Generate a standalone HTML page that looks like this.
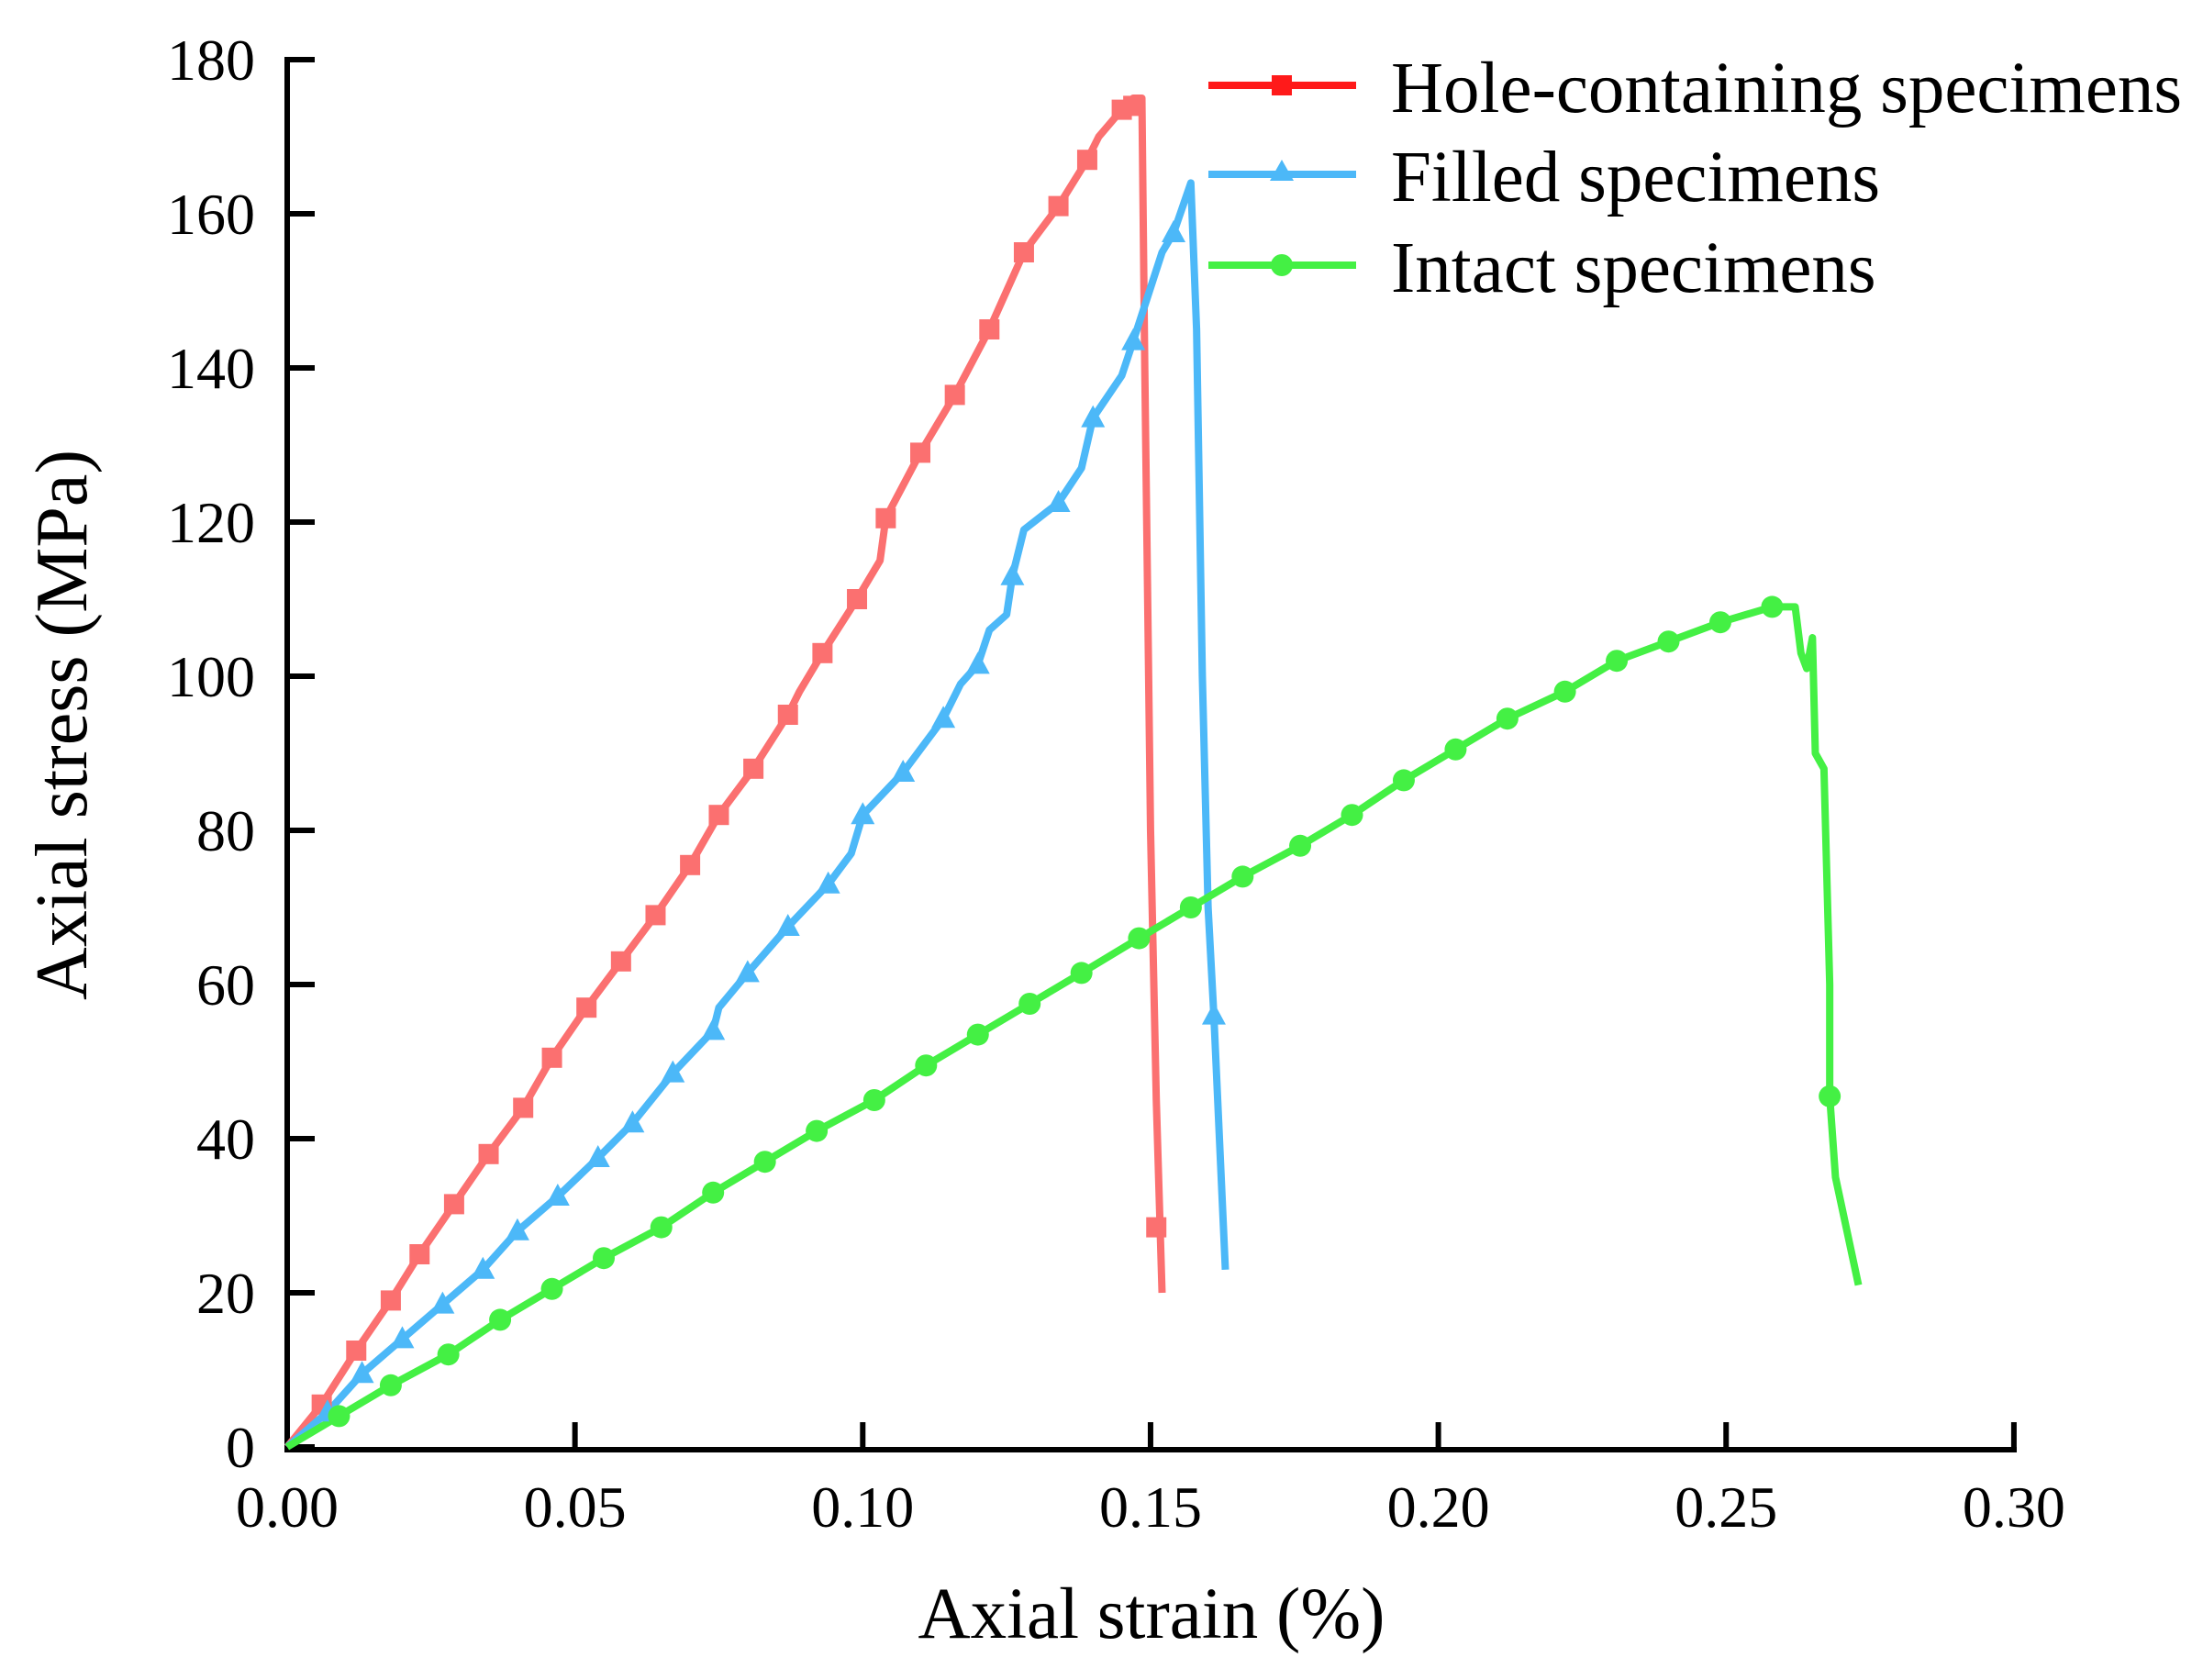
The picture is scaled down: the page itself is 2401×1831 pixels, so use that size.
<!DOCTYPE html>
<html><head><meta charset="utf-8"><style>
html,body{margin:0;padding:0;background:#fff}
svg{display:block}
text{font-family:"Liberation Serif",serif;fill:#000}
</style></head><body>
<svg id="s" width="2401" height="1831" xmlns="http://www.w3.org/2000/svg">
<g id="axes" stroke="#000" stroke-width="6" fill="none">
<path d="M313,62 L313,1580 L2198,1580"/>
</g>
<g id="ticks" stroke="#000" stroke-width="6"></g>
<g id="labels" font-size="64"></g>
<text x="1255" y="1785" font-size="79" text-anchor="middle">Axial strain (%)</text>
<text transform="translate(94,790) rotate(-90)" font-size="80" text-anchor="middle">Axial stress (MPa)</text>
<g id="data"></g>
<g id="legend" font-size="79">
<line x1="1317" y1="93" x2="1478" y2="93" stroke="#ff1a1a" stroke-width="8"/>
<rect x="1386" y="82" width="22" height="22" fill="#ff1a1a"/>
<text x="1516" y="122">Hole-containing specimens</text>
<line x1="1317" y1="190" x2="1478" y2="190" stroke="#4cb8f8" stroke-width="8"/>
<polygon points="1397,174 1410,197 1384,197" fill="#4cb8f8"/>
<text x="1516" y="219">Filled specimens</text>
<line x1="1317" y1="289" x2="1478" y2="289" stroke="#44f044" stroke-width="8"/>
<circle cx="1397" cy="289" r="12" fill="#44f044"/>
<text x="1516" y="318">Intact specimens</text>
</g>
</svg>
<script>
var X=function(v){return 313+v*6273},Y=function(v){return 1577-v*8.4};
var ns="http://www.w3.org/2000/svg";
function el(p,t,a){var e=document.createElementNS(ns,t);for(var k in a)e.setAttribute(k,a[k]);p.appendChild(e);return e;}
var tk=document.getElementById('ticks'),lb=document.getElementById('labels');
for(var i=0;i<=6;i++){var x=X(i*0.05);el(tk,'line',{x1:x,y1:1580,x2:x,y2:1550});
var t=el(lb,'text',{x:x,y:1664,'text-anchor':'middle'});t.textContent=(i*0.05).toFixed(2);}
for(var j=0;j<=9;j++){var y=Y(j*20);el(tk,'line',{x1:313,y1:y,x2:343,y2:y});
var t=el(lb,'text',{x:278,y:y+22,'text-anchor':'end'});t.textContent=j*20;}
var d=document.getElementById('data');
function line(pts,c){el(d,'polyline',{points:pts.map(function(p){return X(p[0])+','+Y(p[1])}).join(' '),fill:'none',stroke:c,'stroke-width':8,'stroke-linejoin':'round'});}
var red=[[0,0],[0.006,5.5],[0.012,12.5],[0.018,19],[0.023,25],[0.029,31.5],[0.035,38],[0.041,44],[0.046,50.5],[0.052,57],[0.058,63],[0.064,69],[0.070,75.5],[0.075,82],[0.081,88],[0.087,95],[0.089,98],[0.093,103],[0.099,110],[0.103,115],[0.104,120.5],[0.110,129],[0.116,136.5],[0.122,145],[0.125,150],[0.128,155],[0.134,161],[0.139,167],[0.141,170],[0.145,173.5],[0.147,175],[0.1485,175],[0.149,140],[0.150,80],[0.151,45],[0.152,20]];
var redM=[[0.006,5.5],[0.012,12.5],[0.018,19],[0.023,25],[0.029,31.5],[0.035,38],[0.041,44],[0.046,50.5],[0.052,57],[0.058,63],[0.064,69],[0.070,75.5],[0.075,82],[0.081,88],[0.087,95],[0.093,103],[0.099,110],[0.104,120.5],[0.110,129],[0.116,136.5],[0.122,145],[0.128,155],[0.134,161],[0.139,167],[0.145,173.5],[0.147,174],[0.151,28.5]];
var blue=[[0,0],[0.007,4.5],[0.013,9.5],[0.020,14],[0.027,18.5],[0.034,23],[0.040,28],[0.047,32.5],[0.054,37.5],[0.060,42],[0.067,48.5],[0.074,54],[0.075,57],[0.080,61.5],[0.087,67.5],[0.094,73],[0.098,77],[0.100,82],[0.107,87.5],[0.114,94.5],[0.117,99],[0.120,101.5],[0.122,106],[0.125,108],[0.126,113],[0.128,119],[0.134,122.5],[0.138,127],[0.140,133.5],[0.145,139],[0.147,143.5],[0.152,155],[0.154,157.5],[0.157,164],[0.158,145],[0.159,100],[0.160,70],[0.161,56],[0.163,23]];
var blueM=[[0.007,4.5],[0.013,9.5],[0.020,14],[0.027,18.5],[0.034,23],[0.040,28],[0.047,32.5],[0.054,37.5],[0.060,42],[0.067,48.5],[0.074,54],[0.080,61.5],[0.087,67.5],[0.094,73],[0.100,82],[0.107,87.5],[0.114,94.5],[0.120,101.5],[0.126,113],[0.134,122.5],[0.140,133.5],[0.147,143.5],[0.154,157.5],[0.161,56]];
var gM=[[0.009,4],[0.018,8],[0.028,12],[0.037,16.5],[0.046,20.5],[0.055,24.5],[0.065,28.5],[0.074,33],[0.083,37],[0.092,41],[0.102,45],[0.111,49.5],[0.120,53.5],[0.129,57.5],[0.138,61.5],[0.148,66],[0.157,70],[0.166,74],[0.176,78],[0.185,82],[0.194,86.5],[0.203,90.5],[0.212,94.5],[0.222,98],[0.231,102],[0.240,104.5],[0.249,107],[0.258,109],[0.268,45.5]];
var green=[[0,0]].concat(gM.slice(0,28)).concat([[0.262,109],[0.263,103],[0.264,101],[0.265,105],[0.2655,90],[0.267,88],[0.268,60],[0.268,45.5],[0.269,35],[0.271,28],[0.273,21]]);
line(red,'#fb7070');line(blue,'#4cb8f8');line(green,'#44f044');
redM.forEach(function(p){el(d,'rect',{x:X(p[0])-11,y:Y(p[1])-11,width:22,height:22,fill:'#fb7070'});});
blueM.forEach(function(p){var x=X(p[0]),y=Y(p[1]);el(d,'polygon',{points:(x)+','+(y-14)+' '+(x+13)+','+(y+10)+' '+(x-13)+','+(y+10),fill:'#4cb8f8'});});
gM.forEach(function(p){el(d,'circle',{cx:X(p[0]),cy:Y(p[1]),r:12,fill:'#44f044'});});
</script>
</body></html>
